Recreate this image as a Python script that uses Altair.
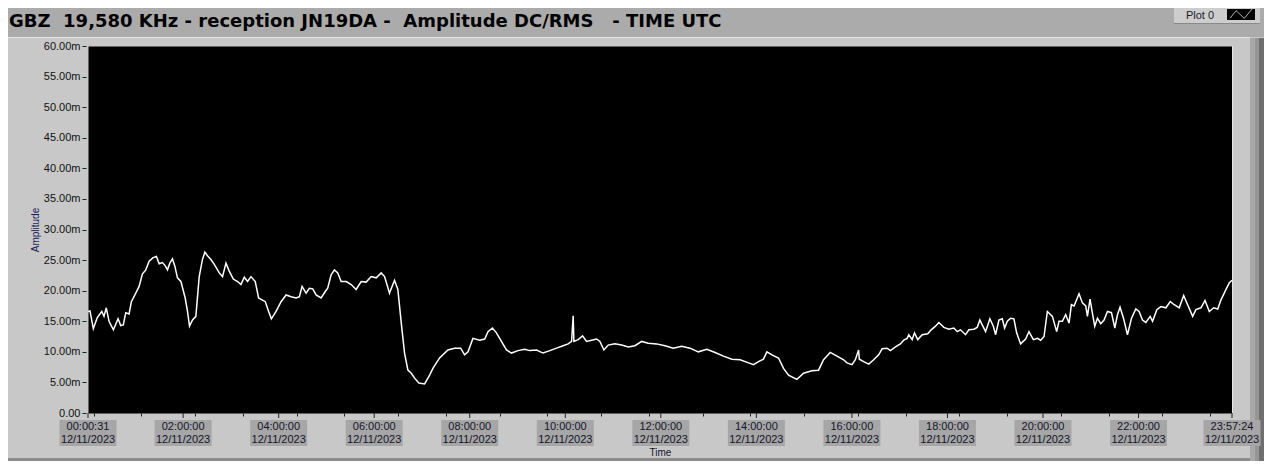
import altair as alt
import pandas as pd

# ---- data (minutes after midnight UTC, amplitude in milli-units) ----
minutes = [0.5, 3.0, 7.2, 12.2, 17.8, 20.6, 23.5, 26.9, 32.4, 38.3, 41.6, 44.9, 47.9, 52.1, 55.0,
           60.5, 64.7, 68.8, 73.1, 77.3, 82.3, 86.5, 89.9, 94.0, 97.4, 100.3, 103.3, 106.6, 109.6,
           112.9, 117.2, 122.6, 125.5, 128.0, 131.8, 136.0, 140.2, 144.3, 147.3, 150.6, 154.9,
           159.1, 165.4, 169.5, 173.8, 177.9, 183.0, 188.4, 192.6, 196.8, 200.9, 205.2, 210.6,
           214.8, 219.1, 223.2, 227.4, 230.8, 236.7, 243.0, 249.3, 255.6, 261.9, 266.0, 269.4,
           274.4, 278.6, 282.8, 287.0, 293.3, 298.7, 301.6, 305.9, 310.0, 314.2, 318.5, 324.8,
           331.1, 337.3, 343.6, 349.9, 356.2, 362.5, 368.8, 373.0, 379.2, 385.5, 389.7, 394.0,
           398.1, 402.3, 406.6, 410.7, 416.1, 423.3, 429.6, 433.7, 442.1, 452.6, 461.0, 468.6,
           473.6, 477.8, 484.0, 492.5, 498.8, 502.9, 508.5, 513.5, 519.8, 526.1, 532.4, 540.7,
           549.1, 555.4, 563.8, 572.1, 580.6, 589.0, 597.3, 603.6, 607.9, 609.9, 610.8, 616.2,
           621.7, 626.7, 633.0, 639.3, 643.5, 648.5, 653.9, 662.3, 670.8, 679.1, 687.5, 695.9,
           704.2, 714.8, 725.2, 735.7, 746.2, 756.7, 767.1, 777.7, 788.2, 798.6, 809.2, 819.6,
           830.1, 836.4, 842.6, 848.9, 853.2, 859.5, 867.8, 874.1, 880.4, 890.9, 899.3, 909.8,
           918.1, 924.4, 932.8, 941.3, 949.6, 953.8, 960.1, 964.3, 968.4, 969.3, 974.8, 981.1,
           987.3, 993.6, 997.9, 1004.2, 1008.4, 1014.7, 1020.9, 1025.1, 1029.4, 1031.4, 1035.7,
           1038.6, 1042.7, 1048.3, 1055.3, 1059.6, 1065.0, 1069.2, 1075.5, 1081.7, 1088.0,
           1092.3, 1096.4, 1102.7, 1106.9, 1113.2, 1117.4, 1120.7, 1123.7, 1127.9, 1133.3,
           1137.6, 1140.5, 1144.6, 1148.9, 1151.8, 1155.2, 1159.3, 1163.5, 1166.9, 1171.9,
           1178.2, 1182.4, 1187.9, 1192.9, 1197.1, 1201.3, 1205.5, 1211.8, 1217.2, 1220.1,
           1224.4, 1228.5, 1232.7, 1235.7, 1239.0, 1245.3, 1249.5, 1253.7, 1255.8, 1259.1,
           1262.1, 1265.0, 1268.4, 1272.5, 1276.7, 1281.0, 1286.0, 1290.2, 1293.6, 1296.8,
           1301.1, 1306.1, 1311.2, 1316.6, 1320.7, 1325.0, 1329.2, 1334.6, 1337.6, 1343.0,
           1348.1, 1354.4, 1359.8, 1364.8, 1371.1, 1376.7, 1381.7, 1388.0, 1392.1, 1398.4,
           1403.5, 1408.9, 1414.4, 1419.5, 1423.6, 1429.9, 1434.1, 1437.4]

amplitude_m = [16.6, 16.7, 13.8, 15.6, 16.6, 15.8, 17.2, 15.0, 13.6, 15.4, 14.3, 14.4, 16.4, 16.2, 18.2,
               19.6, 20.7, 22.7, 23.4, 24.8, 25.4, 25.6, 24.4, 24.6, 24.1, 23.4, 24.5, 25.2, 24.0,
               22.1, 21.5, 18.8, 16.6, 14.2, 15.2, 15.8, 22.3, 25.1, 26.3, 25.7, 25.1,
               24.3, 22.9, 22.3, 24.5, 23.2, 21.9, 21.5, 21.0, 22.2, 21.5, 22.3, 21.5,
               18.8, 18.5, 18.2, 16.6, 15.4, 16.6, 18.2, 19.3, 19.0, 18.8, 19.0, 20.7,
               19.6, 20.4, 20.3, 19.3, 18.8, 19.9, 20.4, 22.6, 23.4, 22.9, 21.5, 21.5,
               21.0, 20.2, 21.5, 21.4, 22.3, 22.1, 22.9, 22.3, 19.6, 21.7, 20.2, 14.7,
               9.8, 7.0, 6.5, 5.7, 4.9, 4.75, 6.2, 7.3, 9.0, 10.3, 10.6, 10.6,
               9.5, 10.0, 12.2, 11.9, 12.1, 13.3, 13.9, 13.1, 11.7, 10.3, 9.8, 10.2,
               10.4, 10.2, 10.3, 9.8, 10.2, 10.6, 11.0, 11.3, 11.7, 15.9, 11.7, 12.0,
               12.6, 11.7, 11.9, 12.1, 11.7, 10.3, 11.1, 11.3, 11.1, 10.8, 11.0, 11.7,
               11.4, 11.3, 11.0, 10.6, 10.9, 10.6, 10.0, 10.4, 9.9, 9.3, 8.8, 8.7,
               8.2, 7.9, 8.4, 8.8, 10.0, 9.5, 9.0, 7.3, 6.2, 5.5, 6.5, 6.9,
               7.0, 8.7, 9.9, 9.3, 8.7, 8.2, 7.9, 8.7, 10.3, 8.8, 8.4, 8.0,
               8.7, 9.5, 10.5, 10.6, 10.2, 10.8, 11.3, 11.9, 12.2, 12.8, 12.0,
               13.1, 12.0, 12.8, 12.95, 13.6, 14.2, 14.8, 14.0, 13.7, 13.9,
               13.3, 13.6, 12.8, 13.6, 13.7, 14.0, 15.2, 14.4, 13.3, 15.4,
               14.2, 12.8, 15.2, 15.4, 13.9, 15.0, 15.5, 15.4, 13.1, 11.3,
               12.1, 13.3, 12.0, 12.2, 11.9, 12.5, 16.6, 15.8, 13.3, 15.0,
               15.0, 16.1, 14.7, 17.7, 17.5, 19.5, 18.0, 17.5, 15.8, 18.6,
               16.3, 14.2, 15.5, 14.6, 15.2, 16.6, 16.4, 13.9, 16.1, 17.3,
               15.5, 12.8, 15.5, 17.0, 16.6, 15.2, 14.8, 15.8, 15.0, 16.9,
               17.4, 17.2, 18.2, 17.7, 17.2, 19.2, 17.7, 15.8, 16.9, 17.2,
               18.4, 16.6, 17.2, 17.0, 18.5, 20.2, 21.3, 21.7]

major_minutes = [0.517, 120, 240, 360, 480, 600, 720, 840, 960, 1080, 1200, 1320, 1437.4]
major_time_labels = ["00:00:31", "02:00:00", "04:00:00", "06:00:00", "08:00:00", "10:00:00",
                     "12:00:00", "14:00:00", "16:00:00", "18:00:00", "20:00:00", "22:00:00",
                     "23:57:24"]
date_label = "12/11/2023"
y_tick_values = [0, 5, 10, 15, 20, 25, 30, 35, 40, 45, 50, 55, 60]
minor_tick_minutes = [i * 7.5 for i in range(1, 192) if (i * 7.5) % 120 != 0]

title_text = "GBZ\u00a0\u00a019,580 KHz - reception JN19DA -\u00a0\u00a0Amplitude DC/RMS\u00a0\u00a0\u00a0- TIME UTC"

# ---- layout constants (chart is 1256 x 453, placed at the page's 8px margin) ----
W, H = 1144, 367
PAD_L, PAD_T, PAD_R, PAD_B = 80, 38, 32, 48
RIGHT = W + PAD_R          # right edge of the chart, in plot coordinates
BOTTOM = H + PAD_B         # bottom edge of the chart, in plot coordinates
FONT = "Liberation Sans"
PANEL = "#c8c8c8"

df = pd.DataFrame({"t": minutes, "v": amplitude_m})
ticks_df = pd.DataFrame({"t": major_minutes, "lab": major_time_labels,
                         "date": [date_label] * len(major_minutes)})
one = pd.DataFrame({"k": [0]})

xscale = alt.Scale(domain=[0.517, 1437.4], nice=False, zero=False)
yscale = alt.Scale(domain=[0, 60], nice=False, zero=False)


def rect(x, x2, y, y2, color):
    return alt.Chart(one).mark_rect(color=color, clip=False).encode(
        x=alt.value(x), x2=alt.value(x2), y=alt.value(y), y2=alt.value(y2))


bg_title = rect(-PAD_L, RIGHT, -PAD_T, -9, "#ababab")
bg_line = rect(-PAD_L, RIGHT - 14, -9, -8, "#e4e4e4")
bar1 = rect(RIGHT - 14, RIGHT - 9, -8, BOTTOM, "#a8a8a8")
bar2 = rect(RIGHT - 9, RIGHT - 5, -8, BOTTOM, "#969696")
bar3 = rect(RIGHT - 5, RIGHT, -8, BOTTOM, "#6f6f6f")
bottom_bar = rect(-PAD_L, RIGHT - 14, BOTTOM - 3, BOTTOM, "#8c8c8c")
edge_line = rect(W, W + 1, 0, H, "#e8e8e8")

legend_box = rect(1086, 1172, -PAD_T, -23, "#cdcdcd")
legend_box_edge = rect(1086, 1172, -23, -22, "#8a8a8a")
legend_icon_bg = rect(1139, 1167, -PAD_T + 1, -26, "#000000")
legend_icon = alt.Chart(one).mark_point(
    shape="M-1,0.35L-0.45,-0.35L0.3,0.35L1,-0.5", filled=False, stroke="white",
    strokeWidth=1, size=22 * 22, clip=False).encode(x=alt.value(1153), y=alt.value(-31.5))
legend_text = alt.Chart(one).mark_text(
    text="Plot 0", font=FONT, fontSize=11, color="#1a1a2a", align="center",
    baseline="middle", clip=False).encode(x=alt.value(1112), y=alt.value(-30.5))

title = alt.Chart(one).mark_text(
    text=title_text, font="DejaVu Sans", fontSize=18, fontWeight="bold", color="#000000",
    align="left", baseline="alphabetic", clip=False).encode(x=alt.value(-79), y=alt.value(-19))

label_boxes = alt.Chart(ticks_df).mark_point(
    shape="M-1,-0.456L1,-0.456L1,0.456L-1,0.456Z", filled=True, fill="#a6a6a6",
    strokeWidth=0, opacity=1, size=57 * 57, clip=False).encode(
    x=alt.X("t:Q", scale=xscale), y=alt.value(H + 20))
time_text = alt.Chart(ticks_df).mark_text(
    font=FONT, fontSize=11, color="#14142a", baseline="middle", clip=False).encode(
    x=alt.X("t:Q", scale=xscale), y=alt.value(H + 14), text="lab:N")
date_text = alt.Chart(ticks_df).mark_text(
    font=FONT, fontSize=11, color="#14142a", baseline="middle", clip=False).encode(
    x=alt.X("t:Q", scale=xscale), y=alt.value(H + 27), text="date:N")
major_ticks = alt.Chart(ticks_df).mark_rule(color="#222222", strokeWidth=1, clip=False).encode(
    x=alt.X("t:Q", scale=xscale), y=alt.value(H), y2=alt.value(H + 5))

line = alt.Chart(df).mark_line(color="white", strokeWidth=1.5, clip=True).encode(
    x=alt.X("t:Q", scale=xscale,
            axis=alt.Axis(values=minor_tick_minutes, labels=False, ticks=True, tickSize=3,
                          tickColor="#222222", domain=False, grid=False, title="Time",
                          titleFont=FONT, titleFontSize=10, titleFontWeight="normal",
                          titleColor="#14142a", titleBaseline="middle", titleY=39)),
    y=alt.Y("v:Q", scale=yscale,
            axis=alt.Axis(values=y_tick_values, tickSize=4, offset=2, tickColor="#222222",
                          domain=False, grid=False, labelFont=FONT, labelFontSize=11,
                          labelColor="#111111", labelPadding=2,
                          labelExpr="datum.value == 0 ? '0.00' : format(datum.value, '.2f') + 'm'",
                          title="Amplitude", titleFont=FONT, titleFontSize=10,
                          titleFontWeight="normal", titleColor="#1a1a5a",
                          titleAngle=-90, titleBaseline="middle", titleX=-51, titleY=H / 2)),
)

chart = alt.layer(
    bg_title, bg_line, bar1, bar2, bar3, bottom_bar, edge_line,
    legend_box, legend_box_edge, legend_icon_bg, legend_icon, legend_text, title,
    label_boxes, time_text, date_text, major_ticks, line,
).properties(
    width=W, height=H,
    padding={"left": PAD_L, "top": PAD_T, "right": PAD_R, "bottom": PAD_B},
    autosize=alt.AutoSizeParams(type="none"),
).configure(
    background=PANEL,
).configure_view(
    fill="#000000", stroke="transparent",
)

chart.save("out.html", embed_options={"renderer": "svg", "actions": False})
